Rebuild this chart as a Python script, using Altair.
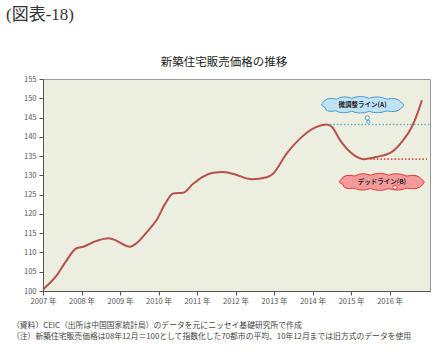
import altair as alt
import pandas as pd

# Readings of the index (decimal year, value)
years = [2007.00, 2007.36, 2007.57, 2007.87, 2008.05, 2008.39, 2008.70, 2008.83,
         2009.26, 2009.43, 2009.74, 2009.95, 2010.17, 2010.38, 2010.64, 2010.90,
         2011.16, 2011.42, 2011.68, 2012.03, 2012.33, 2012.42, 2012.81, 2012.98,
         2013.33, 2013.68, 2014.06, 2014.37, 2014.50, 2014.71, 2014.97, 2015.32,
         2015.67, 2016.06, 2016.32, 2016.58, 2016.71, 2016.84]
values = [100.4, 104.1, 107.3, 111.1, 111.5, 113.0, 113.7, 113.4,
          111.5, 112.4, 115.8, 118.4, 122.6, 125.3, 125.5, 127.8,
          129.7, 130.7, 130.9, 130.1, 129.1, 129.0, 129.5, 130.5,
          135.7, 139.6, 142.4, 143.2, 142.6, 139.2, 136.1, 134.2,
          134.8, 136.1, 138.7, 142.6, 145.7, 149.5]

# Reference lines
ref_names = ["微調整ライン(A)", "デッドライン(B)"]
ref_levels = [143.2, 134.2]
ref_start = [2014.45, 2015.49]
ref_end = [2017.05, 2016.97]

y_ticks = list(range(100, 156, 5))
x_ticks = list(range(2007, 2017))

title_text = "新築住宅販売価格の推移"
fig_label = "(図表-18)"
notes = ["（資料）CEIC（出所は中国国家統計局）のデータを元にニッセイ基礎研究所で作成",
         "（注）新築住宅販売価格は08年12月＝100として指数化した70都市の平均、10年12月までは旧方式のデータを使用"]

FONT = "Noto Sans CJK JP"

df = pd.DataFrame({"year": years, "value": values})
refs = pd.DataFrame({"name": ref_names, "level": ref_levels, "x0": ref_start, "x1": ref_end,
                     "color": ["#5AAFC8", "#E04848"]})

xs = alt.Scale(domain=[2007, 2017.05], nice=False, zero=False)
ys = alt.Scale(domain=[100, 155], nice=False, zero=False)
x_axis = alt.Axis(values=x_ticks, labelExpr="datum.value + ' 年'", grid=False,
                  tickSize=4, labelFontSize=7.5, labelColor="#555", labelFont=FONT,
                  domainColor="#555", tickColor="#555", labelPadding=2,
                  labelOverlap=False, labelFlush=False)
y_axis = alt.Axis(values=y_ticks, grid=False, tickSize=4, labelFontSize=7.5,
                  labelColor="#555", labelFont=FONT, domainColor="#555",
                  tickColor="#555", labelPadding=3, labelOverlap=False,
                  labelFlush=False)


def X(field):
    return alt.X(field, scale=xs, axis=x_axis, title=None)


def Y(field):
    return alt.Y(field, scale=ys, axis=y_axis, title=None)


line = alt.Chart(df).mark_line(color="#B5524B", strokeWidth=2, interpolate="monotone").encode(
    x=X("year:Q"), y=Y("value:Q"))

rules = alt.Chart(refs).mark_rule(strokeWidth=1.6, strokeDash=[1.5, 2]).encode(
    x=X("x0:Q"), x2="x1:Q", y=Y("level:Q"),
    color=alt.Color("color:N", scale=None),
)

cloud_path = ("M -0.86 0.05 Q -1.0 0.0 -0.9 -0.07 Q -0.84 -0.19 -0.6 -0.14 "
              "Q -0.45 -0.23 -0.25 -0.16 Q -0.05 -0.24 0.15 -0.16 Q 0.35 -0.23 0.55 -0.14 "
              "Q 0.8 -0.19 0.88 -0.07 Q 1.0 0.0 0.88 0.07 Q 0.8 0.18 0.55 0.13 "
              "Q 0.35 0.21 0.15 0.14 Q -0.05 0.22 -0.25 0.14 Q -0.45 0.21 -0.62 0.13 "
              "Q -0.86 0.17 -0.86 0.05 Z")

clouds = pd.DataFrame({"name": ref_names, "cx": [2015.30, 2015.80], "cy": [148.2, 128.2],
                       "fill": ["#BFE2F4", "#F49A9A"], "stroke": ["#4E9CCB", "#E03C3C"],
                       "size": [7600, 8100]})
bubbles = pd.DataFrame({"bx": [2015.42, 2015.45, 2016.14, 2016.24],
                        "by": [144.9, 143.9, 126.9, 127.8],
                        "stroke": ["#4E9CCB", "#4E9CCB", "#E03C3C", "#E03C3C"],
                        "r": [18, 10, 16, 7]})

cloud_marks = alt.Chart(clouds).mark_point(shape=cloud_path, filled=True, opacity=1,
                                           strokeWidth=1).encode(
    x=X("cx:Q"), y=Y("cy:Q"),
    fill=alt.Fill("fill:N", scale=None), stroke=alt.Stroke("stroke:N", scale=None),
    size=alt.Size("size:Q", scale=None),
)
cloud_text = alt.Chart(clouds).mark_text(font=FONT, fontSize=6.5, fontWeight="bold",
                                         color="#222").encode(
    x=X("cx:Q"), y=Y("cy:Q"), text="name:N")
bubble_marks = alt.Chart(bubbles).mark_point(shape="circle", filled=True, fill="#FFFFFF",
                                             opacity=1, strokeWidth=1).encode(
    x=X("bx:Q"), y=Y("by:Q"),
    stroke=alt.Stroke("stroke:N", scale=None), size=alt.Size("r:Q", scale=None),
)

tdf = pd.DataFrame({"t": [title_text]})
title = alt.Chart(tdf).mark_text(font=FONT, fontSize=11.5, color="#222").encode(
    x=alt.value(181), y=alt.value(-16), text="t:N")
fdf = pd.DataFrame({"t": [fig_label]})
figlab = alt.Chart(fdf).mark_text(font="Liberation Serif, Noto Sans CJK JP", fontSize=17,
                                  color="#333", align="left").encode(
    x=alt.value(-37), y=alt.value(-64), text="t:N")
note1 = alt.Chart(pd.DataFrame({"t": [notes[0]]})).mark_text(
    font=FONT, fontSize=7.8, color="#444", align="left", baseline="middle").encode(
    x=alt.value(-31), y=alt.value(247), text="t:N")
note2 = alt.Chart(pd.DataFrame({"t": [notes[1]]})).mark_text(
    font=FONT, fontSize=7.8, color="#444", align="left", baseline="middle").encode(
    x=alt.value(-31), y=alt.value(258), text="t:N")

chart = alt.layer(line, rules, cloud_marks, cloud_text, bubble_marks, title, figlab,
                  note1, note2).properties(
    width=387, height=212,
    autosize=alt.AutoSizeParams(type="none"),
    padding={"left": 43, "top": 79, "right": 16, "bottom": 63},
    background="#FFFFFF",
).configure_view(fill="#ECEEDF", stroke="#9A9A9A", strokeWidth=1)

chart.save("out.html", embed_options={"renderer": "svg", "actions": False})
